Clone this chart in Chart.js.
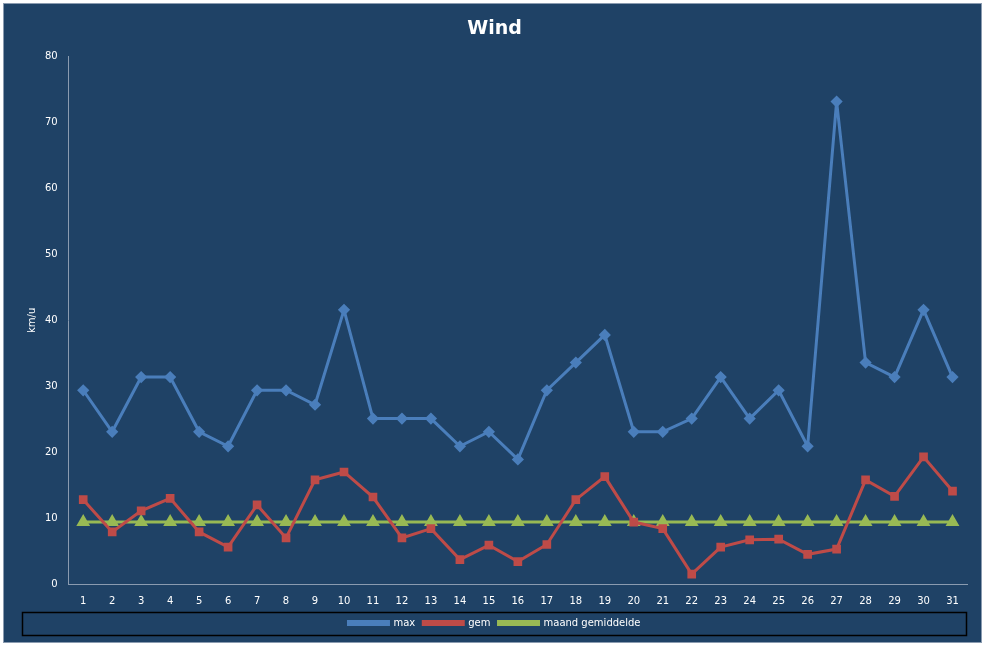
<!DOCTYPE html>
<html><head><meta charset="utf-8">
<script src="https://cdn.jsdelivr.net/npm/chart.js@4/dist/chart.umd.min.js"></script>
<style>html,body{margin:0;padding:0;background:#fff}#w{position:absolute;left:3px;top:3px;width:979px;height:640px;background:#1F4266;border:1px solid #8a9bb0;box-sizing:border-box}</style>
</head><body><div id="w"><canvas id="c"></canvas></div>
<script>
const days = Array.from({length:31},(_, i)=>String(i+1));
const maxVals = [29.4,23.1,31.4,31.4,23.1,20.9,29.4,29.4,27.2,41.6,25.1,25.1,25.1,20.9,23.1,18.9,29.4,33.6,37.8,23.1,23.1,25.1,31.4,25.1,29.4,20.9,73.2,33.6,31.4,41.6,31.4];
const gemVals = [12.8,7.9,11.1,13.0,7.9,5.6,12.0,7.0,15.8,17.0,13.2,7.0,8.4,3.7,5.9,3.4,6.0,12.8,16.3,9.4,8.4,1.5,5.6,6.7,6.8,4.5,5.3,15.8,13.3,19.3,14.1];
const maandGem = [9.4,9.4,9.4,9.4,9.4,9.4,9.4,9.4,9.4,9.4,9.4,9.4,9.4,9.4,9.4,9.4,9.4,9.4,9.4,9.4,9.4,9.4,9.4,9.4,9.4,9.4,9.4,9.4,9.4,9.4,9.4];
const legendBox = {id:'lb',afterDraw(ch){const l=ch.legend;const c=ch.ctx;c.save();c.strokeStyle='#000';c.lineWidth=1.5;c.strokeRect(l.left+0.5,l.top+2.5,l.width-1,l.height-5);c.restore();}};
new Chart(document.getElementById('c'),{
type:'line',
data:{labels:days,datasets:[
{label:'max',data:maxVals,borderColor:'#4A7EBB',backgroundColor:'#4A7EBB',borderWidth:3,pointStyle:'rectRot',pointRadius:4,tension:0},
{label:'gem',data:gemVals,borderColor:'#BE4B48',backgroundColor:'#BE4B48',borderWidth:3,pointStyle:'rect',pointRadius:4,tension:0},
{label:'maand gemiddelde',data:maandGem,borderColor:'#98B954',backgroundColor:'#98B954',borderWidth:3,pointStyle:'triangle',pointRadius:5,tension:0}
]},
options:{responsive:true,maintainAspectRatio:false,animation:false,
layout:{padding:{left:18,right:14,top:0,bottom:4}},
plugins:{title:{display:true,text:'Wind',color:'#fff',font:{family:'DejaVu Sans',size:19,weight:'bold'},padding:{top:14,bottom:16}},
legend:{position:'bottom',labels:{color:'#fff',font:{family:'DejaVu Sans',size:10},usePointStyle:false,boxWidth:40,boxHeight:3,padding:8}}},
scales:{x:{offset:true,grid:{display:false,drawTicks:true,tickColor:'#8a9bb0'},border:{color:'#8a9bb0'},ticks:{color:'#fff',font:{family:'DejaVu Sans',size:10}}},
y:{min:0,max:80,ticks:{stepSize:10,color:'#fff',font:{family:'DejaVu Sans',size:10}},grid:{display:false},border:{color:'#8a9bb0'},title:{display:true,text:'km/u',color:'#fff',font:{family:'DejaVu Sans',size:10}}}}},
plugins:[legendBox]});
</script></body></html>
